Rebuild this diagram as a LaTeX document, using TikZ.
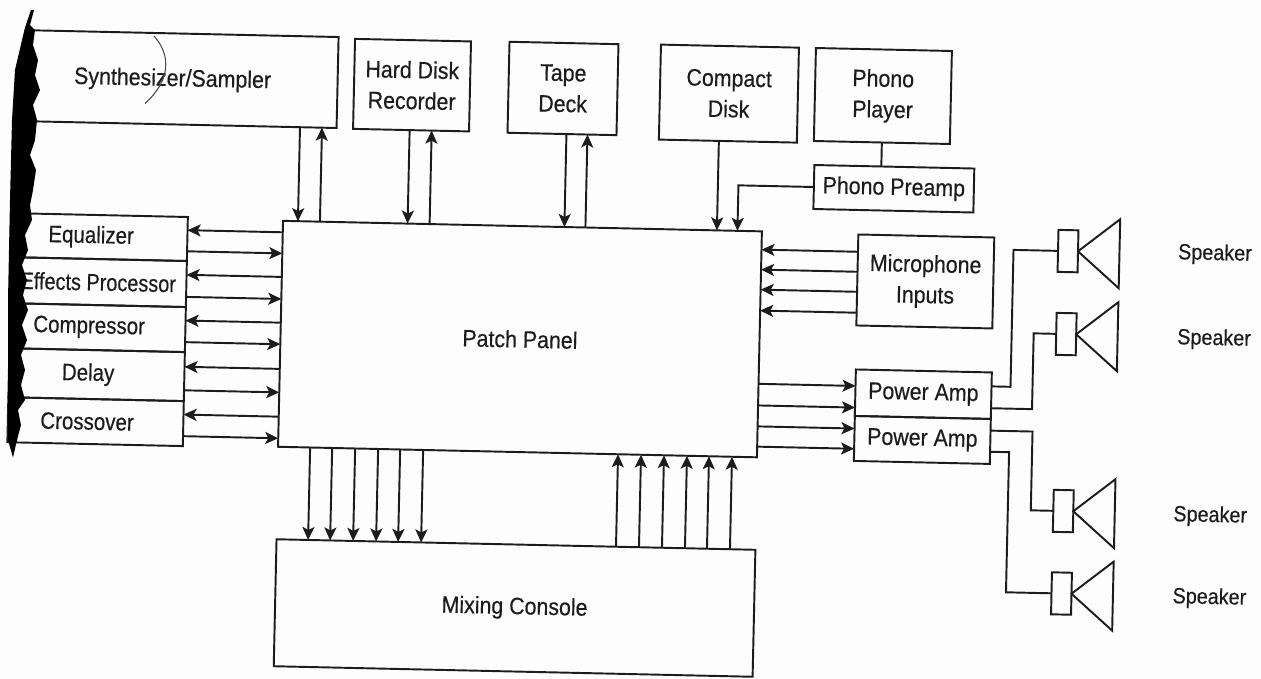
\documentclass[tikz,border=0pt]{standalone}
\usepackage{fontspec}
\setmainfont[FakeStretch=0.9, FakeBold=0.35]{Liberation Sans}
\usetikzlibrary{arrows.meta, calc}
\definecolor{inkblk}{HTML}{1C1C1C}
\definecolor{pagewht}{HTML}{FDFDFD}
\tikzset{
  boxfont/.style={text=inkblk, font=\fontsize{13.5}{17.6}\selectfont},
  unitbox/.style={draw=inkblk, line width=1.1pt, inner sep=0pt, outer sep=0pt, align=center, boxfont},
  dim/.style 2 args={minimum width=#1cm, minimum height=#2cm},
  racktext/.style={boxfont, inner sep=0pt, xshift=-0.17cm, xscale=0.96},
  wire/.style={draw=inkblk, line width=1.1pt},
  sig/.style={wire, -{Stealth[length=2.6mm, width=2.4mm, inset=0.6mm]}},
  gis/.style={wire, {Stealth[length=2.6mm, width=2.4mm, inset=0.6mm]}-},
  spklabel/.style={text=inkblk, font=\fontsize{12.5}{15}\selectfont}
}

\begin{document}
\begin{tikzpicture}

% Page
\fill[pagewht] (0,0) rectangle (25.22,-13.56);
\useasboundingbox (0,0) rectangle (25.22,-13.56);

% The scan sits about 1.26 degrees off square
\begin{scope}[rotate around={-1.26:(12.61,-6.78)}, transform shape]

% Main blocks
\node[unitbox, dim={9.58}{4.52}] (patch) at (10.40,-6.83) {Patch Panel};
\node[unitbox, dim={9.58}{2.54}] (mix) at (10.41,-12.21) {Mixing Console};

% Source row
\node[unitbox, dim={6.20}{1.82}, label={[boxfont, inner sep=0pt, xshift=-0.2cm, yshift=-0.02cm]center:Synthesizer/Sampler}] (synth) at (3.54,-1.78) {};
\node[unitbox, dim={2.32}{1.80}] (hard) at (8.13,-1.80) {Hard Disk\\Recorder};
\node[unitbox, dim={2.18}{1.82}] (tape) at (11.15,-1.80) {Tape\\Deck};
\node[unitbox, dim={2.76}{1.90}] (compact) at (14.47,-1.83) {Compact\\Disk};
\node[unitbox, dim={2.72}{1.86}] (player) at (17.55,-1.81) {Phono\\Player};
\node[unitbox, dim={3.20}{0.88}] (preamp) at (17.81,-3.66) {Phono Preamp};

% Effects rack
\node[unitbox, dim={3.51}{0.88}, label={[racktext]center:Equalizer}] (eq) at (1.95,-4.975) {};
\node[unitbox, dim={3.51}{0.92}, label={[racktext, xshift=0.17cm, xscale=0.97]center:Effects Processor}] (fx) at (1.95,-5.876) {};
\node[unitbox, dim={3.51}{0.90}, label={[racktext]center:Compressor}] (comp) at (1.95,-6.787) {};
\node[unitbox, dim={3.51}{0.98}, label={[racktext]center:Delay}] (delay) at (1.95,-7.728) {};
\node[unitbox, dim={3.51}{0.90}, label={[racktext]center:Crossover}] (cross) at (1.95,-8.668) {};

% Right side
\node[unitbox, dim={2.72}{1.82}] (mic) at (18.48,-5.50) {Microphone\\Inputs};
\node[unitbox, dim={2.72}{0.93}] (ampa) at (18.49,-7.755) {Power Amp};
\node[unitbox, dim={2.72}{0.90}] (ampb) at (18.49,-8.67) {Power Amp};

% Speakers
\foreach \n/\x/\y in {spka/21.32/-4.83, spkb/21.32/-6.49, spkc/21.34/-10.03, spkd/21.34/-11.68} {
  \node[unitbox, dim={0.40}{0.84}] (\n) at (\x,\y) {};
  \draw[wire, line join=miter] (\n.east) -- ++(0.83,0.66) -- ++(0,-1.38) -- cycle;
}
\node[spklabel] (lbla) at (24.26,-4.83) {Speaker};
\node[spklabel] (lblb) at (24.28,-6.53) {Speaker};
\node[spklabel] (lblc) at (24.28,-10.07) {Speaker};
\node[spklabel] (lbld) at (24.30,-11.71) {Speaker};

% Rack <-> patch panel
\foreach \n in {eq,fx,comp,delay,cross} {
  \coordinate (s) at ($(\n.north east)!0.30!(\n.south east)$);
  \draw[gis] (s) -- ($(patch.north west)!(s)!(patch.south west)$);
  \coordinate (s) at ($(\n.north east)!0.78!(\n.south east)$);
  \draw[sig] (s) -- ($(patch.north west)!(s)!(patch.south west)$);
}

% Sources down to the patch panel
\foreach \n/\f in {synth/0.882, hard/0.488, tape/0.541, compact/0.435} {
  \coordinate (s) at ($(\n.south west)!\f!(\n.south east)$);
  \draw[sig] (s) -- ($(patch.north west)!(s)!(patch.north east)$);
}
\foreach \n/\f in {synth/0.953, hard/0.678, tape/0.734} {
  \coordinate (s) at ($(\n.south west)!\f!(\n.south east)$);
  \draw[sig] ($(patch.north west)!(s)!(patch.north east)$) -- (s);
}
\draw[wire] (player.south) -- ($(preamp.north west)!(player.south)!(preamp.north east)$);
\coordinate (pin) at ($(patch.north west)!0.949!(patch.north east)$);
\draw[sig] (preamp.west) -| (pin);

% Microphones
\foreach \f in {0.19,0.41,0.63,0.86} {
  \coordinate (s) at ($(mic.north west)!\f!(mic.south west)$);
  \draw[sig] (s) -- ($(patch.north east)!(s)!(patch.south east)$);
}

% Patch panel to the amps
\foreach \n/\f in {ampa/0.355, ampa/0.82, ampb/0.28, ampb/0.73} {
  \coordinate (s) at ($(\n.north west)!\f!(\n.south west)$);
  \draw[sig] ($(patch.north east)!(s)!(patch.south east)$) -- (s);
}

% Amps to the speakers
\foreach \n/\f/\d/\t in {ampa/0.30/0.38/spka, ampa/0.77/0.82/spkb, ampb/0.26/0.84/spkc, ampb/0.73/0.38/spkd} {
  \draw[wire] ($(\n.north east)!\f!(\n.south east)$) -- ++(\d,0) |- (\t.west);
}

% Patch panel <-> mixing console
\foreach \f in {0.067,0.113,0.161,0.209,0.255,0.303} {
  \coordinate (s) at ($(patch.south west)!\f!(patch.south east)$);
  \draw[sig] (s) -- ($(mix.north west)!(s)!(mix.north east)$);
}
\foreach \f in {0.710,0.758,0.806,0.854,0.900,0.948} {
  \coordinate (s) at ($(patch.south west)!\f!(patch.south east)$);
  \draw[sig] ($(mix.north west)!(s)!(mix.north east)$) -- (s);
}

\end{scope}

% Stray pen mark
\draw[inkblk!80, line width=0.6pt] (3.08,-0.72) .. controls (3.42,-1.1) and (3.42,-1.6) .. (2.90,-2.07);

% Binding shadow of the scan
\fill[black] (0.62,-0.2) -- (0.5,-0.55) -- (0.30,-1.4) -- (0.24,-2.4) -- (0.2,-4) -- (0.16,-6)
  -- (0.16,-8.8) -- (0.26,-9.15) -- (0.34,-8.8) -- (0.42,-8.5) -- (0.36,-8.2) -- (0.5,-8)
  -- (0.42,-7.7) -- (0.5,-7.4) -- (0.42,-7.1) -- (0.54,-6.8) -- (0.44,-6.5) -- (0.56,-6.2)
  -- (0.46,-5.9) -- (0.54,-5.6) -- (0.44,-5.3) -- (0.56,-5) -- (0.5,-4.7) -- (0.64,-4.4)
  -- (0.6,-4.1) -- (0.66,-3.8) -- (0.72,-3.4) -- (0.6,-3.1) -- (0.7,-2.8) -- (0.74,-2.4)
  -- (0.66,-2.1) -- (0.8,-1.8) -- (0.7,-1.5) -- (0.76,-1.2) -- (0.66,-0.9) -- (0.7,-0.6)
  -- (0.6,-0.5) -- (0.68,-0.2) -- cycle;

\end{tikzpicture}
\end{document}
